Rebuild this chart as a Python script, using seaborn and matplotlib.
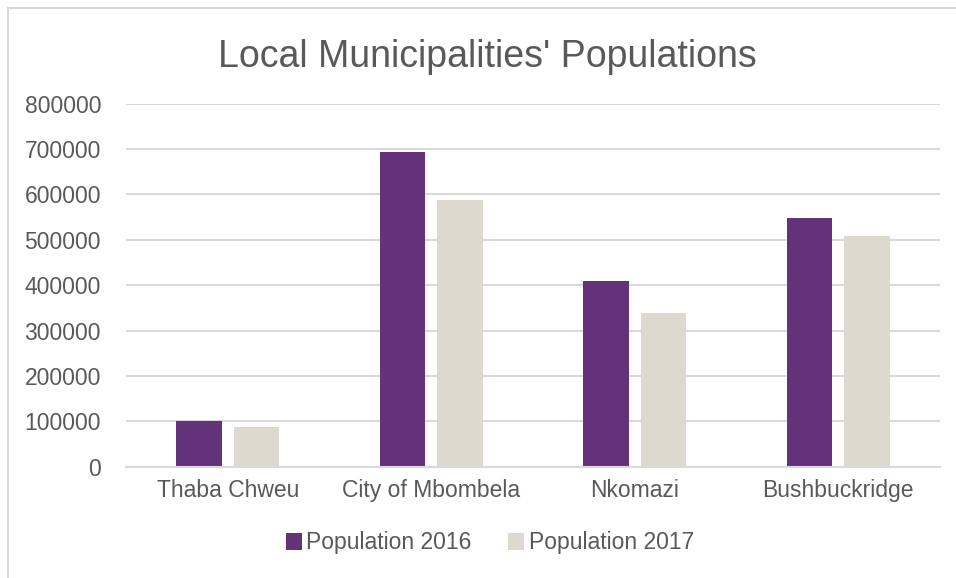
import matplotlib
matplotlib.use("Agg")
import matplotlib.pyplot as plt
from matplotlib.patches import Patch, Rectangle
import seaborn as sns
import pandas as pd

municipalities = ["Thaba Chweu", "City of Mbombela", "Nkomazi", "Bushbuckridge"]
pop_2016 = [101400, 693300, 410000, 549000]
pop_2017 = [87500, 588100, 338000, 509000]
series_names = ["Population 2016", "Population 2017"]
y_ticks = [0, 100000, 200000, 300000, 400000, 500000, 600000, 700000, 800000]

colors = ["#643278", "#DDD9CF"]
text_gray = "#595959"
grid_gray = "#D9D9D9"

df = pd.DataFrame({
    "Municipality": municipalities * 2,
    "Population": pop_2016 + pop_2017,
    "Series": [series_names[0]] * 4 + [series_names[1]] * 4,
})

sns.set_theme(style="white")
plt.rcParams["font.family"] = ["Liberation Sans", "DejaVu Sans"]

fig = plt.figure(figsize=(9.56, 5.78), dpi=100)
ax = fig.add_axes([126 / 956, 1 - 466.7 / 578, 814 / 956, (466.7 - 103.7) / 578])

sns.barplot(data=df, x="Municipality", y="Population", hue="Series",
            order=municipalities, hue_order=series_names,
            palette=colors, saturation=1, width=0.567, gap=0.21, ax=ax,
            edgecolor="none", legend=False)

ax.set_ylim(0, 800000)
ax.set_xlim(-0.5, 3.5)
ax.set_yticks(y_ticks)
ax.set_yticklabels([str(v) for v in y_ticks])
ax.set_xlabel("")
ax.set_ylabel("")
ax.yaxis.grid(True, color=grid_gray, linewidth=1.5)
ax.set_axisbelow(True)
for side in ["top", "right", "left"]:
    ax.spines[side].set_visible(False)
ax.spines["bottom"].set_color(grid_gray)
ax.spines["bottom"].set_linewidth(1.5)
ax.tick_params(axis="y", length=0, pad=18, labelsize=16.5, labelcolor=text_gray)
ax.tick_params(axis="x", length=0, pad=9, labelsize=16.5, labelcolor=text_gray)

fig.text(487 / 956, 1 - 57 / 578, "Local Municipalities' Populations",
         ha="center", va="center", fontsize=27, color=text_gray)

handles = [Patch(facecolor=c, edgecolor="none") for c in colors]
fig.legend(handles, series_names, loc="center",
           bbox_to_anchor=(490 / 956, 1 - 543 / 578), ncol=2, frameon=False,
           fontsize=16.5, labelcolor=text_gray, handlelength=0.7,
           handleheight=0.7, handletextpad=0.2, columnspacing=1.6)

# chart frame
fig.patches.append(Rectangle((8 / 956, -0.05), 1.05, 1 - 8 / 578 + 0.05,
                             transform=fig.transFigure, fill=False,
                             edgecolor="#D9D9D9", linewidth=1.5))

fig.savefig("out.png", dpi=100)
